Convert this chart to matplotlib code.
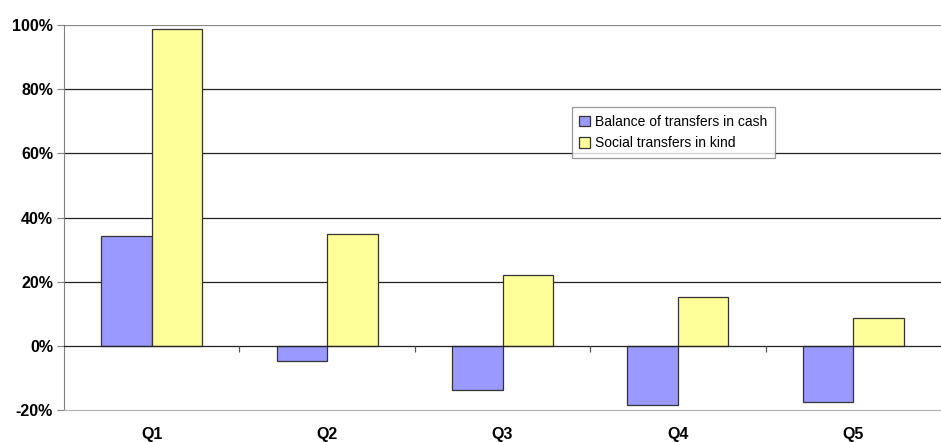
import numpy as np
import matplotlib
matplotlib.use("Agg")
import matplotlib.pyplot as plt
from matplotlib.ticker import FuncFormatter

quintiles = ["Q1", "Q2", "Q3", "Q4", "Q5"]
cash_balance = [34.3, -4.6, -13.7, -18.3, -17.4]
in_kind = [98.8, 34.8, 22.2, 15.3, 8.6]
series_names = ["Balance of transfers in cash", "Social transfers in kind"]

plt.rcParams["font.family"] = ["Liberation Sans", "DejaVu Sans"]

fig = plt.figure(figsize=(9.41, 4.42), dpi=100)
ax = fig.add_axes([64 / 941, 32 / 442, 877 / 941, 385 / 442])

x = np.arange(len(quintiles))
w = 0.288
ax.bar(x - w / 2, cash_balance, w, color="#9999FF", edgecolor="#333333", linewidth=0.9,
       label=series_names[0], zorder=3)
ax.bar(x + w / 2, in_kind, w, color="#FFFF99", edgecolor="#333333", linewidth=0.9,
       label=series_names[1], zorder=3)

ax.set_xlim(-0.5, len(quintiles) - 0.5)
ax.set_ylim(-20, 100)
ax.set_yticks(np.arange(-20, 101, 20))
ax.yaxis.set_major_formatter(FuncFormatter(lambda v, _: f"{v:.0f}%"))
ax.tick_params(axis="y", length=5, width=0.8, color="#808080", labelsize=11.5, pad=3)
for lab in ax.get_yticklabels():
    lab.set_fontweight("bold")

# gridlines only at interior levels, dark
for v in range(20, 100, 20):
    ax.axhline(v, color="#222222", linewidth=0.9, zorder=1)
ax.axhline(100, color="#888888", linewidth=0.9, zorder=1)
ax.axhline(0, color="#222222", linewidth=0.9, zorder=4)

# category axis at zero with boundary ticks
bounds = np.arange(0.5, len(quintiles) - 0.5, 1.0)
ax.vlines(bounds, -1.8, 0, color="#555555", linewidth=0.9, zorder=4)

ax.set_xticks(x)
ax.set_xticklabels(quintiles, fontsize=11.5, fontweight="bold")
ax.tick_params(axis="x", length=0, pad=12)

for side in ["top", "right"]:
    ax.spines[side].set_visible(False)
ax.spines["left"].set_color("#808080")
ax.spines["bottom"].set_color("#b0b0b0")

leg = ax.legend(loc="upper left", bbox_to_anchor=(0.579, 0.787), borderaxespad=0,
                fontsize=10, frameon=True, fancybox=False, handlelength=0.75,
                handleheight=0.75, handletextpad=0.4, borderpad=0.55, labelspacing=0.55)
leg.get_frame().set_edgecolor("#808080")
leg.get_frame().set_linewidth(0.9)

fig.savefig("out.png", dpi=100)
